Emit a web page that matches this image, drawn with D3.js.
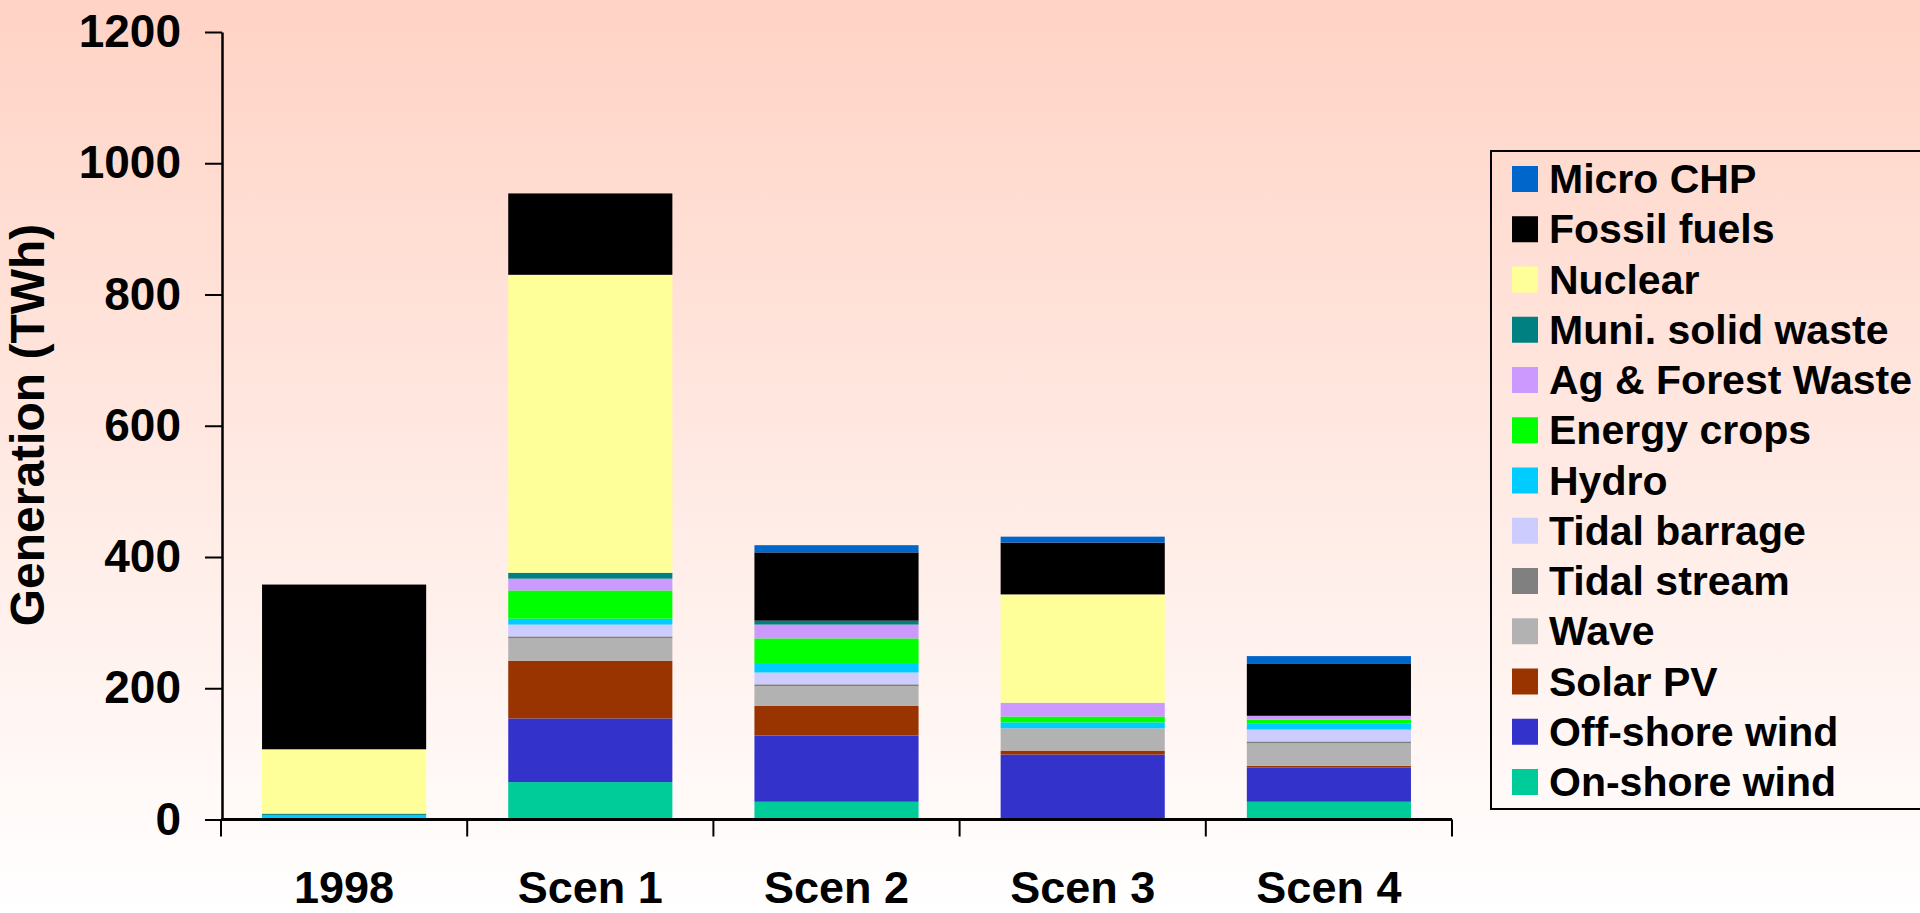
<!DOCTYPE html>
<html>
<head>
<meta charset="utf-8">
<script src="https://cdn.jsdelivr.net/npm/d3@7"></script>
<style>
  html, body { margin: 0; padding: 0; overflow: hidden; background: #fff; }
  svg { display: block; font-family: "Liberation Sans", Arial, sans-serif; font-weight: bold; }
</style>
</head>
<body>
<svg id="chart" width="1920" height="913"></svg>
<script>
// Electricity generation by source (TWh), 1998 and four scenarios
const categories = ["1998", "Scen 1", "Scen 2", "Scen 3", "Scen 4"];

// Stack order, bottom to top
const seriesNames = [
  "On-shore wind", "Off-shore wind", "Solar PV", "Wave", "Tidal stream",
  "Tidal barrage", "Hydro", "Energy crops", "Ag & Forest Waste",
  "Muni. solid waste", "Nuclear", "Fossil fuels", "Micro CHP"
];

const onshoreWind   = [0,   57,  27,   2,  27];
const offshoreWind  = [0,   97, 101,  97,  52];
const solarPV       = [0,   88,  45,   6,   3];
const wave          = [0,   34,  30,  34,  34];
const tidalStream   = [0,    3,   3,   0,   3];
const tidalBarrage  = [0,   18,  18,   0,  18];
const hydro         = [7,    9,  13,   9,   9];
const energyCrops   = [0,   43,  39,   9,   6];
const agForestWaste = [0,   18,  21,  21,   6];
const muniWaste     = [2,    9,   6,   0,   0];
const nuclear       = [98, 454,   0, 165,   0];
const fossilFuels   = [251, 124, 104, 79,  79];
const microCHP      = [0,    0,  11,   9,  12];

const yTicks = [0, 200, 400, 600, 800, 1000, 1200];

const seriesValues = [
  onshoreWind, offshoreWind, solarPV, wave, tidalStream, tidalBarrage,
  hydro, energyCrops, agForestWaste, muniWaste, nuclear, fossilFuels, microCHP
];

const seriesColors = [
  "#00CC99", "#3333CC", "#993300", "#B2B2B2", "#808080", "#CCCCFF",
  "#00CCFF", "#00FF00", "#CC99FF", "#008080", "#FFFF99", "#000000", "#0066CC"
];

// Rows for d3.stack
const rows = categories.map((c, i) => {
  const r = { category: c };
  seriesNames.forEach((s, k) => { r[s] = seriesValues[k][i]; });
  return r;
});

const svg = d3.select("#chart");
const W = 1920, H = 913;

// Background: salmon at the top fading to white
const defs = svg.append("defs");
const grad = defs.append("linearGradient")
  .attr("id", "bg").attr("x1", 0).attr("y1", 0).attr("x2", 0).attr("y2", 1);
grad.append("stop").attr("offset", "0%").attr("stop-color", "#FFD3C5");
grad.append("stop").attr("offset", "100%").attr("stop-color", "#FFFFFF");
svg.append("rect").attr("width", W).attr("height", H).attr("fill", "url(#bg)");

const plotLeft = 221, plotRight = 1452, plotTop = 32, plotBottom = 819.5;

const x = d3.scaleBand()
  .domain(categories)
  .range([plotLeft, plotRight])
  .paddingInner(1 / 3)
  .paddingOuter(1 / 6);

const y = d3.scaleLinear()
  .domain([0, 1200])
  .range([plotBottom, plotTop]);

const stack = d3.stack().keys(seriesNames);
const stacked = stack(rows);

// Stacked bars
svg.append("g")
  .selectAll("g")
  .data(stacked)
  .join("g")
  .attr("fill", (d, i) => seriesColors[i])
  .selectAll("rect")
  .data(d => d.filter(p => p[1] - p[0] > 0))
  .join("rect")
  .attr("x", d => x(d.data.category))
  .attr("width", x.bandwidth())
  .attr("y", d => y(d[1]))
  .attr("height", d => y(d[0]) - y(d[1]));

// Y axis
const yAxis = svg.append("g")
  .attr("transform", `translate(${plotLeft + 1},0)`)
  .call(d3.axisLeft(y).tickValues(yTicks).tickFormat(d3.format("d"))
    .tickSize(17).tickPadding(24).tickSizeOuter(0));
yAxis.select(".domain").attr("stroke", "#000").attr("stroke-width", 2.5);
yAxis.selectAll(".tick line").attr("stroke", "#000").attr("stroke-width", 2);
yAxis.selectAll(".tick text")
  .attr("fill", "#000")
  .style("font-size", "46px")
  .style("font-weight", "bold")
  .style("font-family", "\"Liberation Sans\", Arial, sans-serif");

// X axis with ticks at category boundaries
const step = x.step();
const boundaries = categories.map(c => x(c) + x.bandwidth() / 2 - step / 2)
  .concat([x(categories[categories.length - 1]) + x.bandwidth() / 2 + step / 2]);

const xAxisG = svg.append("g");
xAxisG.append("line")
  .attr("x1", plotLeft).attr("x2", plotRight)
  .attr("y1", y(0)).attr("y2", y(0))
  .attr("stroke", "#000").attr("stroke-width", 3);
xAxisG.selectAll("line.btick")
  .data(boundaries)
  .join("line")
  .attr("class", "btick")
  .attr("x1", d => d).attr("x2", d => d)
  .attr("y1", y(0)).attr("y2", y(0) + 17)
  .attr("stroke", "#000").attr("stroke-width", 2);
xAxisG.selectAll("text")
  .data(categories)
  .join("text")
  .attr("x", d => x(d) + x.bandwidth() / 2)
  .attr("y", 903)
  .attr("text-anchor", "middle")
  .attr("fill", "#000")
  .style("font-size", "45px")
  .text(d => d);

// Y axis title
svg.append("text")
  .attr("transform", "translate(44,425) rotate(-90)")
  .attr("text-anchor", "middle")
  .attr("fill", "#000")
  .style("font-size", "48px")
  .text("Generation (TWh)");

// Legend (top entry is the top of the stack)
const legend = svg.append("g");
legend.append("rect")
  .attr("x", 1491).attr("y", 151)
  .attr("width", 480).attr("height", 658)
  .attr("fill", "none").attr("stroke", "#000").attr("stroke-width", 2);

const legendOrder = seriesNames.map((s, i) => i).reverse();
const rowH = 50.25;
const entries = legend.selectAll("g.entry")
  .data(legendOrder)
  .join("g")
  .attr("class", "entry")
  .attr("transform", (d, j) => `translate(0,${j * rowH})`);
entries.append("rect")
  .attr("x", 1512).attr("y", 166)
  .attr("width", 26).attr("height", 26)
  .attr("fill", d => seriesColors[d]);
entries.append("text")
  .attr("x", 1549).attr("y", 193)
  .attr("fill", "#000")
  .style("font-size", "41px")
  .text(d => seriesNames[d]);
</script>
</body>
</html>
